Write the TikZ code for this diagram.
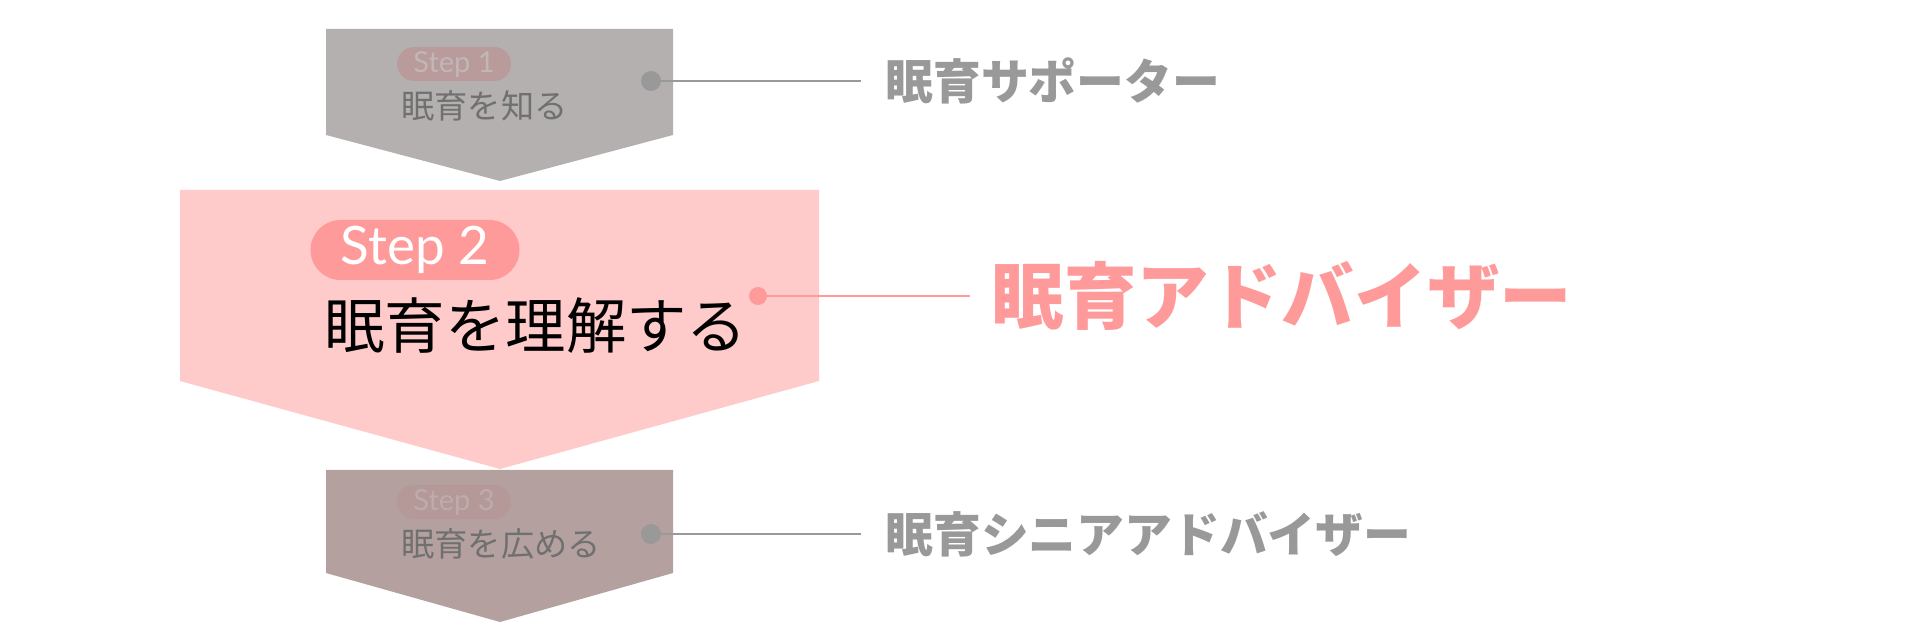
\documentclass[tikz,border=0pt]{standalone}
\usepackage{fontspec}
\setmainfont{Lato}
\newfontfamily\jp{Noto Sans CJK JP}
\definecolor{boxA}{HTML}{B5B0B0}
\definecolor{boxB}{HTML}{FFCACA}
\definecolor{boxC}{HTML}{B5A0A0}
\definecolor{pillA}{HTML}{B99B9B}
\definecolor{pillB}{HTML}{FF9A9A}
\definecolor{pillC}{HTML}{B59898}
\definecolor{stepA}{HTML}{C2B6B6}
\definecolor{stepC}{HTML}{BCACAC}
\definecolor{dimtext}{HTML}{707070}
\definecolor{graylab}{HTML}{999999}
\definecolor{pinklab}{HTML}{FF9A9A}
\tikzset{
  pill/.style={rounded corners=#1, inner sep=0, text centered},
  dimstep/.style={anchor=west, inner sep=0, text=dimtext, font=\jp\fontsize{16.6}{17}\selectfont},
  dotnode/.style={circle, inner sep=0, minimum size=10pt, fill=graylab},
  sidelab/.style={anchor=west, inner ysep=0, inner xsep=12pt, text=graylab, font=\jp\bfseries\fontsize{23.9}{24}\selectfont},
  conn/.style={draw=graylab, line width=1.3pt}
}
\begin{document}
\begin{tikzpicture}[x=0.5pt,y=-0.5pt]
\useasboundingbox (0,0) rectangle (1920,640);
% boxes
\fill[boxA] (326,29) -- (673,29) -- (673,135) -- (500,181) -- (326,135) -- cycle;
\fill[boxC] (326,470) -- (673,470) -- (673,573) -- (500,622) -- (326,573) -- cycle;
\fill[boxB] (180,190) -- (819,190) -- (819,381) -- (500,469) -- (180,381) -- cycle;
% pills
\node[pill=8.5pt, fill=pillA, minimum width=57pt, minimum height=17pt, text=stepA, font=\fontsize{14.5}{15}\selectfont] (p1) at (454,64) {Step 1};
\node[pill=15pt, fill=pillB, minimum width=104.5pt, minimum height=30pt, text=white, font=\fontsize{26.5}{27}\selectfont] (p2) at (415,250) {Step 2};
\node[pill=8.5pt, fill=pillC, minimum width=57pt, minimum height=17pt, text=stepC, font=\fontsize{14.5}{15}\selectfont] (p3) at (454,502) {Step 3};
% step texts
\node[dimstep] (t1) at (401,106) {眠育を知る};
\node[anchor=west, inner sep=0, text=black, font=\jp\fontsize{30.2}{31}\selectfont] (t2) at (324,326) {眠育を理解する};
\node[dimstep] (t3) at (401,544) {眠育を広める};
% dots
\node[dotnode] (d1) at (651,81) {};
\node[dotnode, fill=pinklab, minimum size=9pt] (d2) at (758,296) {};
\node[dotnode] (d3) at (651,534) {};
% labels
\node[sidelab] (l1) at (861,81) {眠育サポーター};
\node[sidelab, text=pinklab, inner xsep=10.5pt, font=\jp\bfseries\fontsize{36.3}{37}\selectfont] (l2) at (970,296) {眠育アドバイザー};
\node[sidelab] (l3) at (861,534) {眠育シニアアドバイザー};
% connectors
\draw[conn] (d1) -- (l1.west);
\draw[conn, draw=pinklab, line width=1pt] (d2) -- (l2.west);
\draw[conn] (d3) -- (l3.west);
\end{tikzpicture}
\end{document}
